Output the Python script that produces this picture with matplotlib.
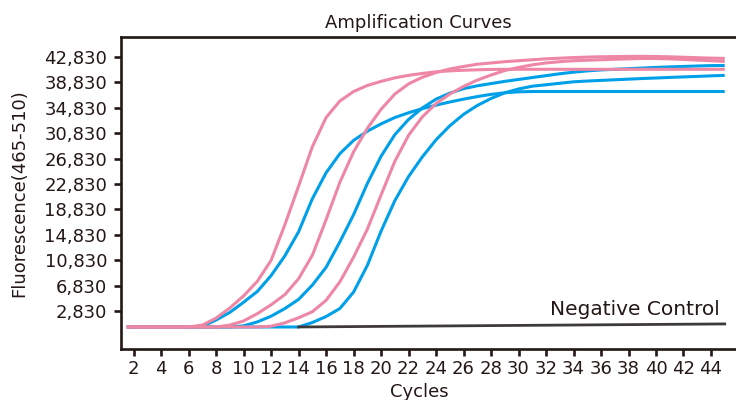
import matplotlib
matplotlib.use('Agg')
import matplotlib.pyplot as plt

plt.rcParams['font.family'] = ['DejaVu Sans']

# cycles (first point is where the traces start, just right of the axis)
cycles = [1.5] + list(range(2, 46))

# pink samples
pink_1 = [300, 300, 300, 300, 300, 300, 600, 1700, 3300, 5200, 7500, 10800, 16400, 22500,
          28700, 33300, 35900, 37400, 38350, 39000, 39550, 39950, 40250, 40500, 40650,
          40750, 40820, 40880] + [40900] * 17
pink_2 = [300] * 8 + [600, 1250, 2400, 3800, 5400, 7900, 11600, 17200, 23100, 27900, 31600,
          34600, 37000, 38600, 39650, 40400, 40950, 41350, 41700, 41900, 42100, 42250,
          42400, 42550, 42650, 42750, 42820, 42880, 42910, 42930, 42935, 42920, 42870,
          42800, 42730, 42660, 42620]
pink_3 = [300] * 11 + [420, 950, 1750, 2700, 4500, 7400, 11300, 15700, 21100, 26400, 30500,
          33400, 35500, 37000, 38200, 39200, 40000, 40700, 41200, 41600, 41900, 42100,
          42250, 42330, 42400, 42480, 42550, 42600, 42600, 42550, 42450, 42350, 42250, 42150]

# blue samples
blue_1 = [300] * 6 + [400, 1400, 2600, 4200, 5900, 8400, 11500, 15300, 20500, 24600, 27600,
          29700, 31150, 32300, 33300, 34050, 34700, 35250, 35750, 36200, 36600, 36950,
          37200, 37350] + [37400] * 15
blue_2 = [300] * 9 + [480, 1100, 2000, 3200, 4650, 6900, 9700, 13700, 18000, 22900, 27200,
          30600, 33000, 34800, 36200, 37150, 37850, 38300, 38650, 39000, 39300, 39600,
          39900, 40200, 40450, 40650, 40800, 40900, 41000, 41100, 41200, 41280, 41350,
          41420, 41480, 41500]
blue_3 = [300] * 14 + [1000, 1950, 3200, 5800, 10000, 15400, 20200, 24000, 27100, 29800, 32000,
          33800, 35200, 36300, 37200, 37800, 38240, 38460, 38700, 38930, 39050, 39150,
          39250, 39350, 39450, 39530, 39620, 39700, 39780, 39870, 39940]

neg_cycles = [14, 45]
neg_values = [300, 780]

y_ticks = list(range(2830, 42831, 4000))
x_ticks = list(range(2, 45, 2))

pink = '#ee87a5'
blue = '#00a0e9'
ink = '#231815'

fig = plt.figure(figsize=(7.36, 4.0), dpi=100)
ax = fig.add_axes([0.1644, 0.1275, 0.8356, 0.78])

for ys in [blue_1, blue_2, blue_3]:
    ax.plot(cycles, ys, color=blue, linewidth=2.2, solid_capstyle='butt')
for ys in [pink_1, pink_2, pink_3]:
    ax.plot(cycles, ys, color=pink, linewidth=2.2, solid_capstyle='butt')
ax.plot(neg_cycles, neg_values, color='#3e3a39', linewidth=2.0)

ax.text(44.66, 2200, 'Negative Control', ha='right', va='baseline', fontsize=14.5, color=ink)

ax.set_xlim(1.08, 45.82)
ax.set_ylim(-3170, 45990)
ax.set_xticks(x_ticks)
ax.set_yticks(y_ticks)
ax.set_yticklabels([f'{v:,}' for v in y_ticks])

for s in ['left', 'top', 'bottom']:
    ax.spines[s].set_linewidth(1.9)
    ax.spines[s].set_color(ink)
ax.spines['right'].set_visible(False)
ax.tick_params(axis='both', direction='out', length=5, width=1.9, color=ink,
               labelcolor=ink, labelsize=13)
ax.tick_params(axis='y', pad=5)
ax.tick_params(axis='x', pad=3)

ax.set_title('Amplification Curves', fontsize=13, color=ink, x=0.484, pad=6.5)
ax.set_xlabel('Cycles', fontsize=13, color=ink)
ax.xaxis.set_label_coords(0.485, -0.109)
ax.set_ylabel('Fluorescence(465-510)', fontsize=13, color=ink)
ax.yaxis.set_label_coords(-0.151, 0.5)

fig.savefig('out.png', dpi=100)
